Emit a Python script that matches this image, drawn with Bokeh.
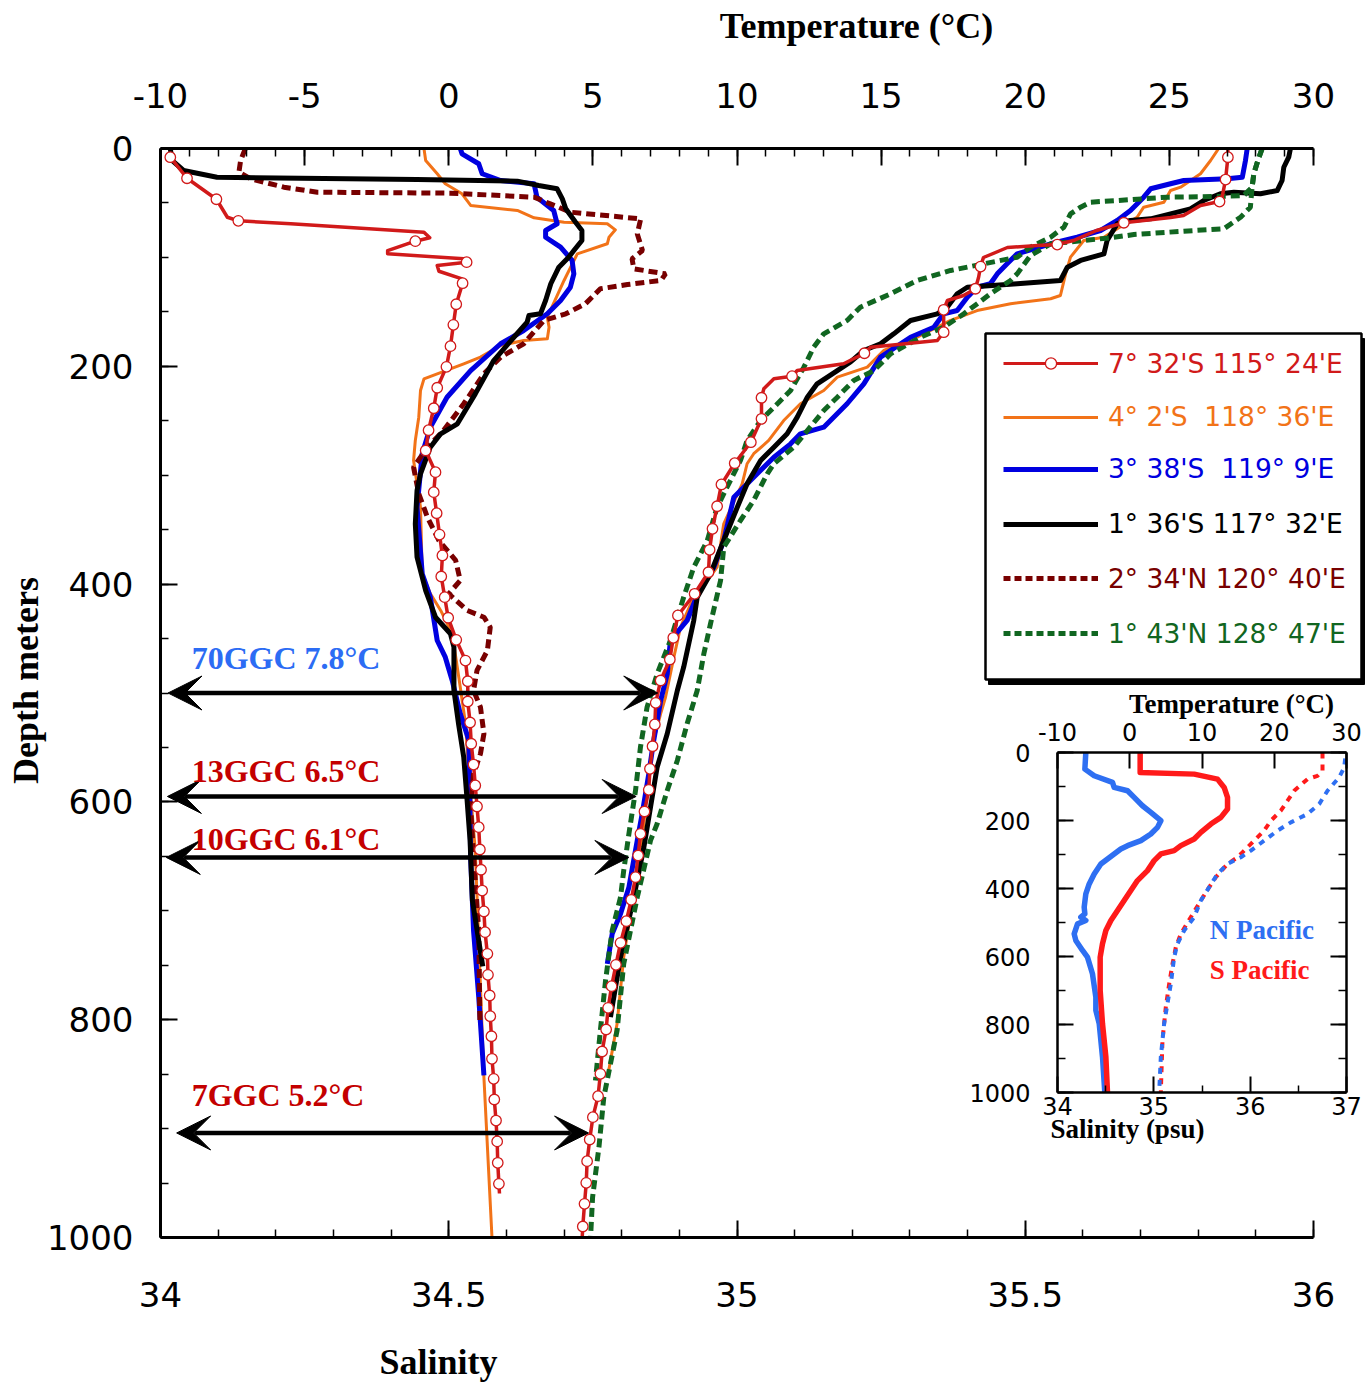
import numpy as np
from bokeh.plotting import figure
from bokeh.models import (Range1d, LinearAxis, FixedTicker, Label, Arrow, VeeHead,
                          Legend, LegendItem, ColumnDataSource, GridBox)
from bokeh.embed import file_html
from bokeh.resources import INLINE

# ---------------------------------------------------------------- data
# main panel salinity profiles: (depth m, salinity psu)
red_sal = [(8.0, 34.017), (27.3, 34.046), (46.6, 34.097), (63.1, 34.116), (66.4, 34.135),
           (69.1, 34.226), (76.9, 34.457), (82.0, 34.467), (85.1, 34.442), (93.7, 34.394),
           (96.7, 34.394), (101.3, 34.526), (104.4, 34.531), (107.4, 34.480), (112.7, 34.483),
           (119.7, 34.523), (123.7, 34.524), (143.0, 34.513), (161.9, 34.508), (181.5, 34.503),
           (200.5, 34.496), (219.7, 34.480), (238.5, 34.474), (258.7, 34.465), (277.3, 34.460),
           (297.2, 34.477), (315.6, 34.474), (334.9, 34.479), (354.5, 34.484), (373.7, 34.489),
           (393.0, 34.487), (412.0, 34.493), (430.9, 34.499), (451.2, 34.513), (470.2, 34.529),
           (489.2, 34.533), (507.8, 34.533), (527.1, 34.537), (546.6, 34.539), (565.7, 34.543),
           (584.9, 34.546), (604.2, 34.549), (623.2, 34.552), (643.7, 34.554), (662.3, 34.556),
           (681.4, 34.558), (700.6, 34.561), (719.6, 34.563), (739.5, 34.567), (758.8, 34.568),
           (777.8, 34.571), (796.8, 34.572), (815.2, 34.574), (835.9, 34.575), (854.3, 34.578),
           (873.3, 34.579), (892.6, 34.582), (911.8, 34.584), (931.4, 34.585), (950.7, 34.587),
           (959.6, 34.588)]
red_sal_marks = [(8.0, 34.017), (27.3, 34.046), (46.6, 34.097), (66.4, 34.135), (85.1, 34.442),
                 (104.4, 34.531), (123.7, 34.524), (143.0, 34.513), (161.9, 34.508), (181.5, 34.503),
                 (200.5, 34.496), (219.7, 34.480), (238.5, 34.474), (258.7, 34.465), (277.3, 34.460),
                 (297.2, 34.477), (315.6, 34.474), (334.9, 34.479), (354.5, 34.484), (373.7, 34.489),
                 (393.0, 34.487), (412.0, 34.493), (430.9, 34.499), (451.2, 34.513), (470.2, 34.529),
                 (489.2, 34.533), (507.8, 34.533), (527.1, 34.537), (546.6, 34.539), (565.7, 34.543),
                 (584.9, 34.546), (604.2, 34.549), (623.2, 34.552), (643.7, 34.554), (662.3, 34.556),
                 (681.4, 34.558), (700.6, 34.561), (719.6, 34.563), (739.5, 34.567), (758.8, 34.568),
                 (777.8, 34.571), (796.8, 34.572), (815.2, 34.574), (835.9, 34.575), (854.3, 34.578),
                 (873.3, 34.579), (892.6, 34.582), (911.8, 34.584), (931.4, 34.585), (950.7, 34.587)]
orange_sal = [(0, 34.457), (11.0, 34.460), (23.2, 34.480), (32.4, 34.494), (41.6, 34.523),
              (52.3, 34.538), (56.9, 34.619), (63.6, 34.648), (67.7, 34.700), (69.1, 34.775),
              (74.7, 34.789), (81.5, 34.778), (87.5, 34.775), (96.7, 34.723), (121.2, 34.700),
              (135.0, 34.688), (154.9, 34.671), (164.1, 34.674), (174.7, 34.671), (176.3, 34.630),
              (180.9, 34.590), (191.6, 34.555), (197.7, 34.526), (202.3, 34.503), (211.5, 34.457),
              (222.2, 34.451), (246.7, 34.448), (268.1, 34.442), (286.5, 34.439), (329.4, 34.451),
              (390.3, 34.454), (408.6, 34.468), (424.2, 34.486), (445.4, 34.506), (494.7, 34.520),
              (528.0, 34.529), (573.9, 34.535), (644.6, 34.546), (852.8, 34.561), (1000, 34.575)]
blue_sal = [(0, 34.520), (4.9, 34.523), (14.0, 34.552), (23.2, 34.558), (29.4, 34.590),
            (32.4, 34.648), (44.7, 34.653), (56.9, 34.682), (69.1, 34.688), (75.3, 34.668),
            (81.5, 34.668), (90.6, 34.694), (102.8, 34.714), (115.1, 34.717), (127.4, 34.711),
            (139.6, 34.694), (151.8, 34.671), (167.1, 34.630), (179.3, 34.590), (203.9, 34.538),
            (228.4, 34.497), (255.9, 34.468), (280.3, 34.454), (329.4, 34.445), (390.5, 34.454),
            (412.0, 34.468), (451.8, 34.480), (467.1, 34.494), (488.5, 34.506), (519.1, 34.520),
            (543.6, 34.535), (650.8, 34.538), (718.1, 34.543), (779.3, 34.552), (851.2, 34.561)]
black_sal = [(0, 34.017), (11.0, 34.020), (20.2, 34.040), (26.4, 34.098), (28.5, 34.445),
             (30.0, 34.619), (34.0, 34.656), (37.0, 34.688), (46.2, 34.697), (55.4, 34.703),
             (67.7, 34.720), (75.3, 34.731), (84.5, 34.731), (93.7, 34.717), (99.8, 34.708),
             (109.0, 34.691), (124.2, 34.677), (139.6, 34.668), (151.8, 34.659), (153.4, 34.639),
             (159.5, 34.636), (173.3, 34.613), (194.7, 34.578), (225.3, 34.546), (252.8, 34.515),
             (262.0, 34.486), (274.3, 34.468), (298.7, 34.451), (314.0, 34.445), (344.6, 34.442),
             (375.3, 34.445), (405.9, 34.460), (430.4, 34.477), (445.6, 34.503), (457.9, 34.509),
             (497.7, 34.509), (528.3, 34.517), (558.9, 34.526), (592.6, 34.531), (635.4, 34.537),
             (690.5, 34.541), (751.0, 34.559)]
darkred_sal = [(0.3, 34.147), (11.0, 34.139), (21.8, 34.136), (27.8, 34.156), (35.5, 34.214),
               (40.1, 34.272), (41.0, 34.503), (44.7, 34.648), (50.8, 34.676), (58.5, 34.711),
               (64.6, 34.833), (78.4, 34.827), (93.7, 34.836), (101.3, 34.818), (110.5, 34.821),
               (115.1, 34.876), (121.2, 34.868), (124.9, 34.810), (128.8, 34.763), (142.6, 34.737),
               (151.8, 34.703), (157.9, 34.665), (179.3, 34.630), (191.6, 34.590), (206.9, 34.561),
               (234.4, 34.526), (258.9, 34.491), (274.3, 34.463), (292.7, 34.439), (317.1, 34.448),
               (338.6, 34.463), (360.0, 34.483), (378.3, 34.512), (396.7, 34.520), (408.9, 34.500),
               (424.2, 34.532), (430.4, 34.561), (439.6, 34.572), (461.0, 34.567), (479.3, 34.549),
               (497.7, 34.543), (513.0, 34.555), (537.4, 34.561), (555.8, 34.555), (574.2, 34.543),
               (604.8, 34.538), (632.4, 34.541), (672.2, 34.546), (718.1, 34.552), (800.7, 34.554)]

# main panel temperature profiles: (depth m, temperature degC)
red_temp = [(0, 27.03), (8.0, 27.03), (28.5, 26.95), (43.2, 26.84), (48.7, 26.74), (52.3, 26.08),
            (61.5, 25.49), (63.4, 25.04), (68.2, 23.42), (75.3, 22.47), (84.5, 21.67), (88.2, 21.11),
            (89.1, 20.43), (90.9, 19.38), (100.1, 18.55), (108.4, 18.45), (118.5, 18.38),
            (128.8, 18.27), (135.0, 17.86), (139.6, 17.30), (148.1, 17.17), (168.7, 17.17),
            (176.3, 16.95), (182.5, 14.63), (188.0, 14.42), (197.7, 13.70), (203.9, 12.09),
            (209.1, 11.91), (211.5, 11.28), (220.7, 10.93), (228.9, 10.85), (248.2, 10.85),
            (269.7, 10.48), (289.0, 9.92), (308.5, 9.46), (328.5, 9.31), (349.2, 9.15), (368.5, 9.05),
            (389.1, 9.01), (408.9, 8.53), (428.8, 7.95), (449.3, 7.79), (469.2, 7.67), (488.5, 7.35),
            (509.0, 7.18), (528.9, 7.15), (548.9, 7.07), (569.6, 6.98), (588.9, 6.94), (608.8, 6.79),
            (629.3, 6.65), (649.2, 6.57), (669.1, 6.48), (689.9, 6.33), (709.5, 6.16), (729.4, 5.96),
            (749.6, 5.80), (769.2, 5.65), (789.1, 5.53), (809.0, 5.46), (829.2, 5.32), (849.7, 5.26),
            (870.2, 5.18), (889.5, 5.00), (910.0, 4.89), (929.9, 4.80), (949.8, 4.77), (969.1, 4.71),
            (989.9, 4.65), (1000, 4.63)]
red_temp_marks = [(8.0, 27.03), (28.5, 26.95), (48.7, 26.74), (68.2, 23.42), (88.2, 21.11),
                  (108.4, 18.45), (128.8, 18.27), (148.1, 17.17), (168.7, 17.17), (188.0, 14.42),
                  (209.1, 11.91), (228.9, 10.85), (248.2, 10.85), (269.7, 10.48), (289.0, 9.92),
                  (308.5, 9.46), (328.5, 9.31), (349.2, 9.15), (368.5, 9.05), (389.1, 9.01),
                  (408.9, 8.53), (428.8, 7.95), (449.3, 7.79), (469.2, 7.67), (488.5, 7.35),
                  (509.0, 7.18), (528.9, 7.15), (548.9, 7.07), (569.6, 6.98), (588.9, 6.94),
                  (608.8, 6.79), (629.3, 6.65), (649.2, 6.57), (669.1, 6.48), (689.9, 6.33),
                  (709.5, 6.16), (729.4, 5.96), (749.6, 5.80), (769.2, 5.65), (789.1, 5.53),
                  (809.0, 5.46), (829.2, 5.32), (849.7, 5.26), (870.2, 5.18), (889.5, 5.00),
                  (910.0, 4.89), (929.9, 4.80), (949.8, 4.77), (969.1, 4.71), (989.9, 4.65)]
orange_temp = [(0, 26.71), (11.0, 26.43), (23.2, 26.08), (35.5, 25.39), (38.6, 25.04), (49.3, 24.81),
               (53.9, 24.11), (63.1, 23.88), (73.7, 23.19), (81.5, 22.73), (84.5, 22.03), (99.8, 21.57),
               (115.1, 21.40), (135.0, 21.22), (138.0, 20.88), (142.6, 19.49), (148.8, 18.33),
               (157.9, 17.41), (173.3, 16.25), (185.5, 15.09), (200.8, 14.52), (210.0, 13.48),
               (222.2, 13.01), (234.4, 12.20), (249.8, 11.62), (268.1, 11.10), (280.3, 10.58),
               (289.5, 10.35), (307.9, 10.18), (344.6, 9.54), (384.5, 9.31), (396.7, 8.97),
               (412.0, 8.50), (439.6, 8.04), (467.1, 7.81), (503.9, 7.52), (519.1, 7.35), (543.6, 7.11),
               (589.5, 6.88), (620.1, 6.77), (672.0, 6.48), (742.6, 6.07), (803.8, 5.84), (846.6, 5.55)]
blue_temp = [(0, 27.70), (11.0, 27.64), (26.4, 27.53), (27.8, 27.01), (29.4, 25.50), (32.4, 25.04),
             (37.0, 24.35), (44.7, 24.11), (56.9, 23.65), (66.1, 23.19), (75.3, 22.61), (81.5, 21.80),
             (87.5, 20.88), (96.7, 19.72), (105.9, 19.37), (115.1, 19.03), (124.2, 18.79),
             (127.4, 18.33), (136.5, 17.99), (148.8, 17.64), (151.8, 17.17), (164.1, 16.83),
             (173.3, 16.02), (191.6, 14.98), (216.1, 14.40), (234.4, 13.82), (255.9, 13.01),
             (262.0, 12.20), (271.2, 11.86), (283.5, 11.28), (301.8, 10.58), (320.2, 9.89),
             (360.0, 9.54), (384.5, 9.20), (402.8, 8.73), (433.4, 8.27), (451.8, 7.69), (482.4, 7.58),
             (507.3, 7.35), (543.6, 7.11), (574.2, 6.94), (611.0, 6.71), (635.4, 6.54), (678.3, 6.25),
             (702.8, 5.96), (721.1, 5.67), (748.7, 5.50)]
black_temp = [(0, 29.20), (8.0, 29.14), (17.2, 28.97), (29.4, 28.91), (38.6, 28.74), (41.6, 28.16),
              (40.1, 27.24), (41.6, 26.77), (47.8, 26.19), (55.4, 25.73), (60.0, 25.04), (64.6, 24.35),
              (66.1, 23.65), (69.1, 23.19), (84.5, 22.84), (96.7, 22.73), (102.8, 21.92),
              (109.0, 21.46), (121.2, 21.22), (124.2, 19.72), (127.4, 17.99), (133.4, 17.64),
              (145.7, 17.29), (151.8, 16.95), (157.9, 16.02), (170.2, 15.44), (179.3, 14.98),
              (185.5, 14.40), (196.0, 13.94), (203.9, 13.48), (216.1, 12.78), (228.4, 12.44),
              (246.7, 12.09), (262.0, 11.74), (274.3, 11.28), (286.5, 10.82), (307.9, 10.35),
              (329.4, 10.01), (360.0, 9.54), (390.5, 9.08), (412.0, 8.62), (433.4, 8.50), (476.3, 8.15),
              (497.7, 7.93), (537.4, 7.58), (568.1, 7.23), (604.8, 7.00), (641.5, 6.77), (687.5, 6.42),
              (742.6, 5.96), (797.7, 5.61)]
green_temp = [(0, 28.22), (11.0, 28.07), (23.2, 27.93), (35.5, 27.87), (43.2, 27.58), (44.1, 26.66),
              (44.7, 24.92), (47.8, 23.19), (49.3, 22.26), (53.9, 21.92), (60.0, 21.57), (72.3, 21.34),
              (81.5, 20.88), (90.6, 20.18), (99.8, 19.72), (105.9, 18.56), (112.0, 17.41),
              (121.2, 16.25), (133.4, 15.33), (145.7, 14.28), (157.9, 13.82), (170.2, 13.01),
              (182.5, 12.66), (200.8, 12.32), (222.2, 11.86), (237.6, 11.28), (249.8, 10.82),
              (268.1, 10.35), (286.5, 10.12), (304.9, 9.77), (329.4, 9.31), (360.0, 8.97),
              (384.5, 8.50), (412.0, 8.15), (451.8, 7.69), (482.4, 7.23), (513.0, 6.88), (549.8, 6.65),
              (589.5, 6.48), (629.3, 6.25), (663.0, 6.07), (687.5, 5.96), (718.1, 5.67), (764.0, 5.44),
              (809.9, 5.26), (855.8, 5.09)]
green_temp2 = [(0, 28.22), (11.0, 28.07), (23.2, 27.93), (35.5, 27.87), (53.9, 27.81), (63.1, 27.47),
               (73.7, 26.89), (75.9, 25.50), (79.0, 23.77), (82.0, 22.96), (84.5, 22.03), (87.5, 20.88),
               (98.3, 20.18), (115.1, 19.72), (121.2, 19.49), (133.4, 18.79), (151.8, 17.87),
               (164.1, 17.17), (173.3, 16.37), (188.5, 15.33), (203.9, 14.75), (213.0, 14.05),
               (228.4, 13.48), (240.6, 13.01), (259.0, 12.44), (274.3, 11.97), (289.5, 11.28),
               (298.7, 11.05), (323.2, 10.58), (341.6, 10.12), (366.1, 9.54), (396.7, 9.43),
               (436.5, 9.08), (464.0, 8.85), (497.7, 8.62), (528.3, 8.27), (562.0, 7.93), (589.5, 7.58),
               (620.1, 7.23), (635.4, 7.00), (687.5, 6.54), (748.7, 6.07), (809.9, 5.84), (840.5, 5.61),
               (871.1, 5.38), (917.1, 5.21), (963.0, 4.99), (1000, 4.92)]

station_names = ["7\u00b0 32'S 115\u00b0 24'E", "4\u00b0 2'S\u00a0 118\u00b0 36'E",
                 "3\u00b0 38'S\u00a0 119\u00b0 9'E", "1\u00b0 36'S 117\u00b0 32'E",
                 "2\u00b0 34'N 120\u00b0 40'E", "1\u00b0 43'N 128\u00b0 47'E"]

# sediment cores: name, bottom-water temperature, depth, arrow tip temperature
core_names = ["70GGC", "13GGC", "10GGC", "7GGC"]
core_temps = [7.8, 6.5, 6.1, 5.2]
core_depths = [500, 595, 651, 904]
core_tip_temps = [7.25, 6.5, 6.25, 4.85]

# tick values
sal_ticks = [34, 34.5, 35, 35.5, 36]
temp_ticks = [-10, -5, 0, 5, 10, 15, 20, 25, 30]
depth_ticks = [0, 200, 400, 600, 800, 1000]

# inset: (depth m, value)
npac_sal = [(0, 34.294), (48.9, 34.284), (68.5, 34.381), (88.1, 34.571), (102.7, 34.588),
            (112.5, 34.727), (132.1, 34.796), (156.6, 34.882), (176.1, 34.969), (200.6, 35.073),
            (220.2, 35.038), (239.7, 34.969), (259.3, 34.865), (274.0, 34.727), (283.8, 34.657),
            (298.4, 34.588), (327.8, 34.450), (357.1, 34.381), (386.5, 34.329), (415.9, 34.294),
            (455.0, 34.277), (474.6, 34.284), (484.3, 34.242), (494.1, 34.294), (503.9, 34.208),
            (533.3, 34.173), (552.8, 34.190), (582.2, 34.260), (601.8, 34.311), (650.7, 34.363),
            (719.2, 34.398), (758.3, 34.398), (797.5, 34.433), (895.3, 34.467), (1000, 34.491)]
spac_sal = [(0, 34.858), (58.7, 34.858), (63.6, 35.419), (78.3, 35.661), (102.7, 35.730),
            (132.1, 35.765), (166.3, 35.765), (190.8, 35.696), (210.4, 35.592), (234.8, 35.488),
            (254.4, 35.419), (274.0, 35.280), (288.6, 35.211), (298.4, 35.073), (318.0, 35.003),
            (347.4, 34.934), (376.7, 34.830), (406.1, 34.761), (435.4, 34.692), (464.8, 34.623),
            (494.1, 34.554), (523.5, 34.502), (562.6, 34.467), (601.8, 34.443), (699.6, 34.443),
            (797.5, 34.467), (895.3, 34.502), (1000, 34.519)]
npac_temp = [(0, 29.91), (44.0, 29.68), (73.4, 28.98), (112.5, 27.37), (151.7, 26.22), (181.0, 24.60),
             (205.5, 22.30), (230.0, 20.45), (259.3, 18.60), (288.6, 16.76), (308.2, 15.37),
             (327.8, 13.53), (357.1, 12.15), (396.3, 10.99), (435.4, 9.84), (484.3, 8.92),
             (523.5, 7.53), (562.6, 6.61), (601.8, 6.15), (680.0, 5.69), (738.7, 5.22), (797.5, 4.76),
             (895.3, 4.30), (1000, 4.07)]
spac_temp = [(0, 26.68), (53.8, 26.68), (68.5, 25.99), (78.3, 24.60), (112.5, 22.76), (141.9, 21.83),
             (171.2, 20.91), (200.6, 19.53), (230.0, 18.60), (259.3, 17.22), (278.9, 16.30),
             (308.2, 14.91), (327.8, 13.53), (366.9, 11.91), (396.3, 10.99), (435.4, 9.84),
             (484.3, 8.45), (533.3, 7.07), (572.4, 6.38), (621.3, 5.92), (680.0, 5.46), (748.5, 4.99),
             (846.4, 4.53), (1000, 4.30)]
inset_sal_ticks = [34, 35, 36, 37]
inset_temp_ticks = [-10, 0, 10, 20, 30]
inset_depth_ticks = [0, 200, 400, 600, 800, 1000]

# ---------------------------------------------------------------- styles
RED, ORANGE, BLUE, BLACK = "#d11a1a", "#f27318", "#0000e0", "#000000"
DARKRED, GREEN = "#780000", "#116621"
N_BLUE, S_RED = "#2e6ff2", "#ff1a1a"
CORE_COLORS = ["#2c6cf4", "#c40000", "#c40000", "#c40000"]
TICK_FONT = "DejaVu Sans"
SERIF = "Liberation Serif"
W, H = 1372, 1385


def split(profile):
    return [v for d, v in profile], [d for d, v in profile]


def no_frame_align(fig):
    if "frame_align" in fig.properties():
        fig.frame_align = False


def make_axis(ticks, minor, fs, standoff, tick_in=17, minor_in=8, overrides=None,
              x_range_name=None, line_w=3):
    kw = {} if x_range_name is None else {"x_range_name": x_range_name}
    ax = LinearAxis(ticker=FixedTicker(ticks=list(ticks), minor_ticks=list(minor)), **kw)
    ax.axis_line_width = line_w
    ax.axis_line_color = "black"
    ax.major_tick_in, ax.major_tick_out = tick_in, 0
    ax.minor_tick_in, ax.minor_tick_out = minor_in, 0
    ax.major_tick_line_width = 2
    ax.minor_tick_line_width = 1.5
    ax.major_label_text_font = TICK_FONT
    ax.major_label_text_font_size = f"{fs}px"
    ax.major_label_text_color = "black"
    ax.major_label_standoff = standoff
    if overrides is not None:
        ax.major_label_overrides = overrides
    return ax


# ---------------------------------------------------------------- main figure
p = figure(width=W, height=H, x_range=Range1d(34, 36), y_range=Range1d(1000, 0),
           x_axis_type=None, y_axis_type=None, output_backend="svg", toolbar_location=None,
           min_border_left=160, min_border_right=59, min_border_top=148, min_border_bottom=148)
p.extra_x_ranges = {"temp": Range1d(-10, 30)}
p.outline_line_color = None
p.background_fill_alpha = 0
p.border_fill_alpha = 0
no_frame_align(p)

p.add_layout(make_axis(sal_ticks, np.round(np.arange(34, 36.01, 0.1), 2), 34, 44,
                       overrides={t: f"{t:g}" for t in sal_ticks}), "below")
p.add_layout(make_axis(temp_ticks, np.arange(-10, 31, 1), 34, 41,
                       overrides={t: f"{t:g}" for t in temp_ticks}, x_range_name="temp"), "above")
p.add_layout(make_axis(depth_ticks, np.arange(0, 1001, 50), 34, 27), "left")

# profiles
p.line(*split(orange_sal), color=ORANGE, line_width=3, line_join="round")
p.line(*split(orange_temp), color=ORANGE, line_width=3, line_join="round", x_range_name="temp")
p.line(*split(blue_sal), color=BLUE, line_width=5, line_join="round")
p.line(*split(blue_temp), color=BLUE, line_width=5, line_join="round", x_range_name="temp")
p.line(*split(darkred_sal), color=DARKRED, line_width=5, line_dash="9 5")
p.line(*split(black_sal), color=BLACK, line_width=5, line_join="round")
p.line(*split(black_temp), color=BLACK, line_width=5, line_join="round", x_range_name="temp")
p.line(*split(green_temp), color=GREEN, line_width=5, line_dash="9 5", x_range_name="temp")
p.line(*split(green_temp2), color=GREEN, line_width=5, line_dash="9 5", x_range_name="temp")
p.line(*split(red_sal), color=RED, line_width=3.5, line_join="round")
p.line(*split(red_temp), color=RED, line_width=3.5, line_join="round", x_range_name="temp")
p.scatter(*split(red_sal_marks), marker="circle", size=10.5, fill_color="white",
          line_color=RED, line_width=1.3)
p.scatter(*split(red_temp_marks), marker="circle", size=10.5, fill_color="white",
          line_color=RED, line_width=1.3, x_range_name="temp")

# core arrows and labels
arrow_src = ColumnDataSource(dict(x0=[-9.74, -9.76, -9.8, -9.44], x1=core_tip_temps,
                                  y=core_depths))
p.add_layout(Arrow(x_start="x0", y_start="y", x_end="x1", y_end="y", source=arrow_src,
                   x_range_name="temp", line_width=4.5, line_color="black",
                   start=VeeHead(size=34, fill_color="black", line_color="black"),
                   end=VeeHead(size=34, fill_color="black", line_color="black")))
label_depths = [468, 572, 634, 869]
for name, t, yd, col in zip(core_names, core_temps, label_depths, CORE_COLORS):
    p.add_layout(Label(x=34.054, y=yd, text=f"{name} {t}\u00b0C", text_font=SERIF,
                       text_font_style="bold", text_font_size="32px", text_color=col,
                       text_align="left", text_baseline="middle"))

# ---------------------------------------------------------------- inset panel
QW, QH = 404, 459
q = figure(width=QW, height=QH, x_range=Range1d(34, 37), y_range=Range1d(1000, 0),
           x_axis_type=None, y_axis_type=None, output_backend="svg", toolbar_location=None,
           min_border_left=97, min_border_right=18, min_border_top=64, min_border_bottom=55)
q.extra_x_ranges = {"temp": Range1d(-10, 30)}
q.outline_line_color = None
q.background_fill_color = "white"
q.border_fill_color = "white"
no_frame_align(q)
q.add_layout(make_axis(inset_sal_ticks, [34.5, 35.5, 36.5], 24, 4, tick_in=16, minor_in=7,
                       line_w=2.5), "below")
q.add_layout(make_axis(inset_temp_ticks, [], 24, 12, tick_in=16, line_w=2.5,
                       overrides={t: f"{t:g}" for t in inset_temp_ticks},
                       x_range_name="temp"), "above")
q.add_layout(make_axis(inset_depth_ticks, np.arange(0, 1001, 100), 24, 27, tick_in=16,
                       minor_in=8, line_w=2.5), "left")
q.add_layout(make_axis(inset_depth_ticks, np.arange(0, 1001, 100), 24, 0, tick_in=16,
                       minor_in=8, line_w=2.5,
                       overrides={t: "" for t in inset_depth_ticks}), "right")

q.line(*split(npac_sal), color=N_BLUE, line_width=5.5, line_join="round")
q.line(*split(spac_sal), color=S_RED, line_width=5.5, line_join="round")
q.line(*split(spac_temp), color=S_RED, line_width=4, line_dash="6 6", x_range_name="temp")
q.line(*split(npac_temp), color=N_BLUE, line_width=4, line_dash="6 6", line_dash_offset=6,
       x_range_name="temp")
q.add_layout(Label(x=35.581, y=523, text="N Pacific", text_font=SERIF, text_font_style="bold",
                   text_font_size="27px", text_color=N_BLUE, text_align="left",
                   text_baseline="middle"))
q.add_layout(Label(x=35.581, y=641, text="S Pacific", text_font=SERIF, text_font_style="bold",
                   text_font_size="27px", text_color=S_RED, text_align="left",
                   text_baseline="middle"))

# ---------------------------------------------------------------- page overlay (titles, legend)
# pixel-space overlay covering the whole page (its frame is the whole canvas)
O = figure(frame_width=W, frame_height=H, x_range=Range1d(0, W), y_range=Range1d(H, 0),
           x_axis_type=None, y_axis_type=None, output_backend="svg", toolbar_location=None,
           min_border=0)
O.outline_line_color = None
O.background_fill_alpha = 0
O.border_fill_alpha = 0
no_frame_align(O)


def title_label(text, x, y, size, angle=0.0):
    O.add_layout(Label(x=x, y=y, text=text, angle=angle, text_font=SERIF,
                       text_font_style="bold", text_font_size=f"{size}px",
                       text_color="black", text_align="center", text_baseline="middle"))


title_label("Temperature (\u00b0C)", 856, 25, 36)
title_label("Salinity", 438, 1361, 36)
title_label("Depth meters", 25, 680, 36, angle=np.pi / 2)
title_label("Temperature (\u00b0C)", 1231, 703, 27)
title_label("Salinity (psu)", 1127, 1128, 27)

# legend frame with drop shadow
O.quad(left=[988], right=[1364], top=[338], bottom=[684], color="black")
O.quad(left=[985], right=[1361], top=[333], bottom=[679], fill_color="white",
       line_color="black", line_width=2.5)

styles = [dict(color=RED, line_width=3), dict(color=ORANGE, line_width=3),
          dict(color=BLUE, line_width=5), dict(color=BLACK, line_width=5),
          dict(color=DARKRED, line_width=5, line_dash="7 4"),
          dict(color=GREEN, line_width=5, line_dash="7 4")]
text_colors = [RED, ORANGE, BLUE, BLACK, DARKRED, GREEN]
row_y = [363.5, 417, 469, 524, 578.5, 633.5]
nan = float("nan")
for i, (nm, st, tc, ry) in enumerate(zip(station_names, styles, text_colors, row_y)):
    rs = [O.line(x=[nan], y=[nan], **st)]
    if i == 0:
        rs.append(O.scatter(x=[nan], y=[nan], marker="circle", size=10, fill_color="white",
                            line_color=RED, line_width=1.3))
    lg = Legend(items=[LegendItem(label=nm, renderers=rs)], location=(1003, H - (ry + 15)),
                padding=0, margin=0, spacing=0, glyph_width=95, glyph_height=28,
                label_height=28, label_standoff=10, label_text_font=TICK_FONT,
                label_text_font_size="26.5px", label_text_color=tc,
                background_fill_alpha=0, border_line_color=None)
    O.add_layout(lg)

# ---------------------------------------------------------------- layout (overlapping grid cells)
page = GridBox(children=[(p, 0, 0, 3, 3), (q, 1, 1, 1, 1), (O, 0, 0, 3, 3)],
               rows=["688px", "459px", "238px"], cols=["960px", "404px", "8px"], spacing=0)

open("out.html", "w").write(file_html(page, INLINE))
